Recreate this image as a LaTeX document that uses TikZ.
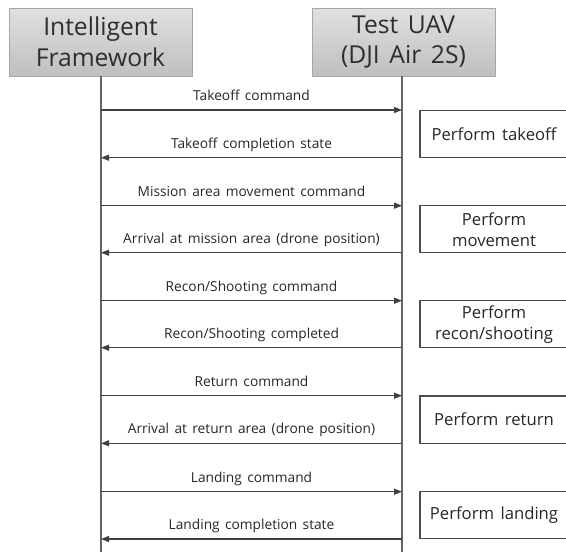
\documentclass[tikz,border=0pt]{standalone}
\usepackage{fontspec}
\setmainfont{Open Sans}[WordSpace=1.5]
\usetikzlibrary{arrows.meta}

\tikzset{
  header/.style={draw=black!35, top color=black!12, bottom color=black!25,
    minimum width=137pt, minimum height=51pt, align=center, inner sep=0pt,
    text=black!82, font=\fontsize{18.5}{23}\selectfont},
  lifeline/.style={draw=black!60, line width=1pt},
  msg/.style={draw=black!75, line width=0.9pt,
    -{Triangle[length=6pt,width=4.5pt]}},
  msglabel/.style={anchor=base, yshift=7pt, inner sep=0pt, text=black!85,
    font=\fontsize{10.3}{12}\selectfont},
  actbox/.style={draw=black!70, line width=0.8pt, minimum width=111pt,
    minimum height=35.3pt, align=center, inner sep=0pt, text=black!85,
    font=\fontsize{12.5}{15.75}\selectfont}
}

\begin{document}
\begin{tikzpicture}[x=0.75pt,y=-0.75pt]
\useasboundingbox (0,0) rectangle (566,551);
\clip (0,0) rectangle (566,551);

\node[header] (fw) at (100.5,42) {Intelligent\\Framework};
\node[header] (uav) at (403.5,42) {Test UAV\\(DJI Air 2S)};

\coordinate (fwend) at (101,553);
\coordinate (uavend) at (402,553);
\draw[lifeline] (fw.south -| fwend) -- (fwend);
\draw[lifeline] (uav.south -| uavend) -- (uavend);

\foreach \i/\y/\txt in {1/110/{Takeoff command},
    3/205.7/{Mission area movement command},
    5/300.7/{Recon/Shooting command},
    7/395.7/{Return command},
    9/491.7/{Landing command}}{
  \coordinate (fw\i) at (101,\y);
  \coordinate (uav\i) at (402,\y);
  \draw[msg] (fw\i) -- node[msglabel] {\txt} (uav\i);
}

\foreach \i/\y/\txt in {2/157.7/{Takeoff completion state},
    4/252.7/{Arrival at mission area (drone position)},
    6/347.7/{Recon/Shooting completed},
    8/443.3/{Arrival at return area (drone position)},
    10/539/{Landing completion state}}{
  \coordinate (fw\i) at (101,\y);
  \coordinate (uav\i) at (402,\y);
  \draw[msg] (uav\i) -- node[msglabel] {\txt} (fw\i);
}

\node[actbox] (takeoff) at (494,133.9) {Perform takeoff};
\node[actbox] (move) at (494,229.2) {Perform\\movement};
\node[actbox] (recon) at (494,324.2) {Perform\\recon/shooting};
\node[actbox] (return) at (494,419.5) {Perform return};
\node[actbox] (landing) at (494,515.4) {Perform landing};
\end{tikzpicture}
\end{document}
